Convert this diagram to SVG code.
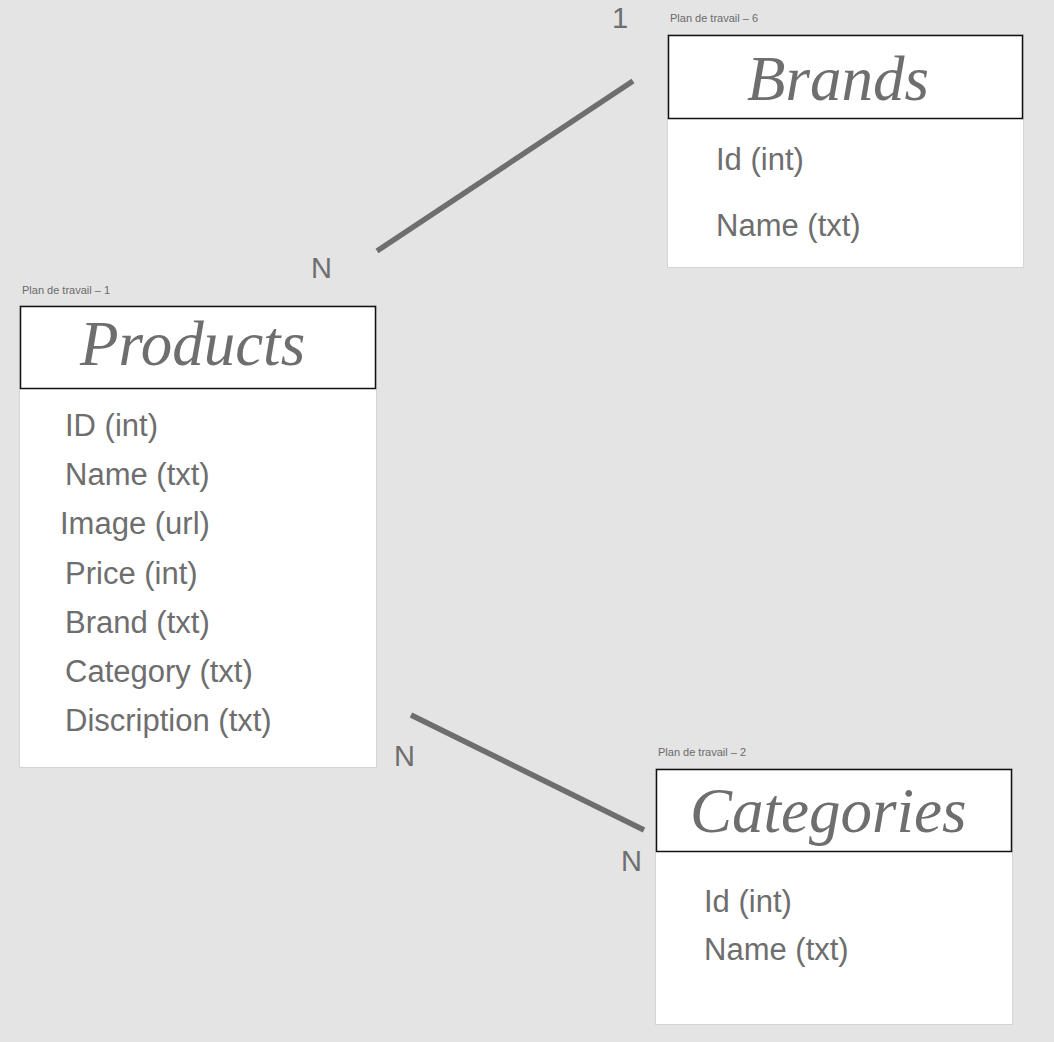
<svg xmlns="http://www.w3.org/2000/svg" width="1054" height="1042" viewBox="0 0 1054 1042">
<style>
.card{fill:#ffffff;stroke:#d4d4d4;stroke-width:1}
.head{fill:#ffffff;stroke:#111111;stroke-width:1.5}
.title{font-family:"Liberation Serif","DejaVu Serif",serif;font-style:italic;font-size:63px;fill:#6e6e6e}
.field{font-family:"Liberation Sans",Arial,sans-serif;font-size:31px;fill:#6e6e6e}
.small{font-family:"Liberation Sans",Arial,sans-serif;font-size:11px;fill:#6a6a6a}
.card-label{font-family:"Liberation Sans",Arial,sans-serif;font-size:29px;fill:#6e6e6e}
.conn{stroke:#6e6e6e;stroke-width:5.5;fill:none}
</style>
<rect x="0" y="0" width="1054" height="1042" fill="#e4e4e4"/>
<g id="connectors">
<line class="conn" x1="377" y1="251" x2="633" y2="81"/>
<line class="conn" x1="411" y1="715" x2="644" y2="830"/>
<text class="card-label" x="612" y="28">1</text>
<text class="card-label" x="311" y="278">N</text>
<text class="card-label" x="394" y="766">N</text>
<text class="card-label" x="621" y="871">N</text>
</g>
<g id="brands">
<text class="small" x="670" y="22">Plan de travail – 6</text>
<rect class="card" x="667.5" y="34.5" width="356" height="233"/>
<rect class="head" x="668.5" y="35.5" width="354" height="83"/>
<text class="title" x="747" y="100">Brands</text>
<text class="field" x="716" y="170">Id (int)</text>
<text class="field" x="716" y="236">Name (txt)</text>
</g>
<g id="products">
<text class="small" x="22" y="294">Plan de travail – 1</text>
<rect class="card" x="19.5" y="305.5" width="357" height="462"/>
<rect class="head" x="20.5" y="306.5" width="355" height="82"/>
<text class="title" x="80" y="365">Products</text>
<text class="field" x="65" y="436">ID (int)</text>
<text class="field" x="65" y="485">Name (txt)</text>
<text class="field" x="60" y="534">Image (url)</text>
<text class="field" x="65" y="584">Price (int)</text>
<text class="field" x="65" y="633">Brand (txt)</text>
<text class="field" x="65" y="682">Category (txt)</text>
<text class="field" x="65" y="731">Discription (txt)</text>
</g>
<g id="categories">
<text class="small" x="658" y="756">Plan de travail – 2</text>
<rect class="card" x="655.5" y="768.5" width="357" height="256"/>
<rect class="head" x="656.5" y="769.5" width="355" height="82"/>
<text class="title" x="690" y="832">Categories</text>
<text class="field" x="704" y="912">Id (int)</text>
<text class="field" x="704" y="960">Name (txt)</text>
</g>
</svg>
